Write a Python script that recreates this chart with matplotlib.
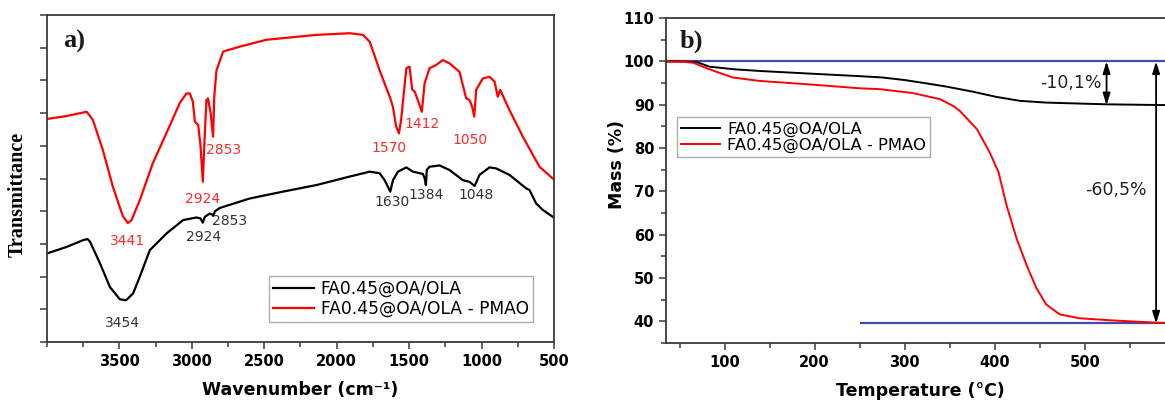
import matplotlib
matplotlib.use("Agg")
import matplotlib.pyplot as plt
from matplotlib.ticker import MultipleLocator, FixedLocator

# FTIR spectra (transmittance, arbitrary units)
wn_ola = [4000, 3864, 3749, 3720, 3703, 3634, 3566, 3497, 3454, 3405, 3359, 3290,
          3175, 3060, 2968, 2940, 2924, 2910, 2876, 2860, 2853, 2840, 2807, 2600,
          2370, 2140, 1910, 1772, 1703, 1669, 1630, 1611, 1577, 1519, 1474, 1405,
          1392, 1384, 1378, 1359, 1290, 1221, 1129, 1083, 1048, 1014, 945, 899,
          807, 692, 669, 623, 577, 508, 500]
tr_ola = [27.1, 29.1, 31.2, 31.5, 30.7, 24.1, 16.9, 13.1, 12.8, 14.9, 20.0, 28.1,
          33.2, 37.3, 38.1, 37.8, 36.5, 38.3, 39.3, 39.0, 38.6, 40.0, 41.0, 43.9,
          46.0, 48.0, 50.6, 52.1, 51.6, 49.5, 46.0, 49.5, 52.1, 53.4, 52.1, 51.4,
          50.0, 48.0, 52.6, 53.6, 54.0, 52.6, 49.5, 49.0, 47.7, 51.1, 53.4, 53.1,
          51.1, 47.0, 46.5, 42.4, 40.4, 38.3, 38.0]

wn_pmao = [4000, 3864, 3726, 3683, 3614, 3545, 3476, 3441, 3416, 3359, 3269, 3175,
           3083, 3037, 3014, 2993, 2979, 2956, 2940, 2924, 2912, 2899, 2888, 2870,
           2853, 2845, 2830, 2784, 2669, 2485, 2370, 2140, 1910, 1818, 1772, 1726,
           1703, 1634, 1612, 1590, 1570, 1555, 1519, 1497, 1478, 1462, 1440, 1412,
           1393, 1359, 1313, 1267, 1221, 1152, 1106, 1083, 1065, 1050, 1037, 991,
           945, 910, 888, 871, 807, 715, 600, 508, 500]
tr_pmao = [68.2, 69.1, 70.4, 67.9, 58.7, 47.5, 38.5, 36.4, 37.3, 43.4, 54.7, 63.9,
           73.1, 76.0, 76.0, 73.5, 67.4, 66.4, 60.0, 49.0, 62.0, 74.0, 74.5, 70.0,
           62.8, 75.0, 83.0, 88.8, 90.3, 92.4, 92.9, 93.9, 94.4, 93.9, 91.8, 86.0,
           83.0, 75.0, 72.0, 66.0, 63.8, 68.0, 83.7, 84.2, 77.1, 76.6, 74.0, 70.4,
           79.1, 83.7, 84.7, 86.2, 85.2, 82.6, 74.5, 74.0, 72.0, 68.9, 77.1, 80.6,
           81.1, 79.6, 75.0, 77.1, 70.9, 62.8, 53.6, 50.0, 49.7]

# peak labels: (text, x, y)
peaks_ola = [("3454", 3478, 5.7), ("2924", 2917, 32.2), ("2853", 2738, 37.1),
             ("1630", 1616, 42.7), ("1384", 1381, 45.0), ("1048", 1036, 45.0)]
peaks_pmao = [("3441", 3441, 30.9), ("2924", 2924, 43.7), ("2853", 2779, 58.7),
              ("1570", 1641, 59.2), ("1412", 1409, 66.7), ("1050", 1078, 61.8)]

# TGA curves
temp_ola = [35, 50, 70, 83, 110, 139, 194, 250, 275, 300, 325, 346, 376, 402,
            428, 457, 490, 524, 560, 600]
mass_ola = [100.0, 100.0, 99.8, 98.8, 98.2, 97.8, 97.2, 96.6, 96.3, 95.7, 94.9,
            94.2, 93.0, 91.8, 90.9, 90.5, 90.3, 90.1, 90.0, 89.9]
temp_pmao = [35, 55, 65, 83, 109, 139, 194, 250, 272, 309, 339, 354, 361, 380,
             394, 404, 413, 424, 435, 446, 457, 472, 494, 531, 578, 600]
mass_pmao = [100.0, 99.9, 99.7, 98.2, 96.3, 95.5, 94.7, 93.8, 93.6, 92.7, 91.3,
             89.7, 88.6, 84.4, 79.1, 74.5, 66.8, 59.2, 53.1, 47.7, 43.9, 41.6,
             40.7, 40.2, 39.7, 39.5]

loss_ola = 10.1
loss_pmao = 60.5

labels = ["FA0.45@OA/OLA", "FA0.45@OA/OLA - PMAO"]

SPINE = "#3a3a3a"
RED = "#ff0000"
BLUE = "#4848a8"

fig = plt.figure(figsize=(11.65, 4.03), dpi=100)
ax1 = fig.add_axes([0.0403, 0.151, 0.4352, 0.812])
ax2 = fig.add_axes([0.5717, 0.149, 0.4369, 0.806])

for ax in (ax1, ax2):
    for s in ax.spines.values():
        s.set_color(SPINE)
        s.set_linewidth(1.3)
    ax.tick_params(which="both", direction="out", color=SPINE, width=1.1,
                   labelsize=10.5, top=False, right=False)
    ax.tick_params(which="major", length=5)
    ax.tick_params(which="minor", length=3.5)

# ---- a) FTIR ----
ax1.plot(wn_ola, tr_ola, color="black", lw=1.6, label=labels[0])
ax1.plot(wn_pmao, tr_pmao, color=RED, lw=1.6, label=labels[1])
ax1.set_xlim(4000, 500)
ax1.set_ylim(0, 100)
ax1.xaxis.set_major_locator(FixedLocator([3500, 3000, 2500, 2000, 1500, 1000, 500]))
ax1.xaxis.set_minor_locator(MultipleLocator(250))
ax1.yaxis.set_major_locator(MultipleLocator(10))
ax1.set_yticklabels([])
for lbl in ax1.get_xticklabels():
    lbl.set_fontweight("bold")
ax1.set_xlabel("Wavenumber (cm⁻¹)", fontsize=12.5, fontweight="bold", labelpad=9)
ax1.set_ylabel("Transmittance", fontsize=14.5, fontweight="bold",
               family="Liberation Serif")
ax1.yaxis.set_label_coords(-0.038, 0.45)

for txt, x, y in peaks_ola:
    ax1.text(x, y, txt, color="#333333", fontsize=10, ha="center", va="center")
for txt, x, y in peaks_pmao:
    ax1.text(x, y, txt, color="#ff2a2a", fontsize=10, ha="center", va="center")

ax1.text(0.032, 0.92, "a)", transform=ax1.transAxes, fontsize=19,
         fontweight="bold", family="Liberation Serif", va="center", ha="left",
         color="#1a1a1a")

leg1 = ax1.legend(loc="lower right", bbox_to_anchor=(0.959, 0.061), fontsize=12.3,
                  frameon=True, fancybox=False, handlelength=2.4,
                  borderpad=0.25, labelspacing=0.1, borderaxespad=0,
                  handletextpad=0.4)
leg1.get_frame().set_edgecolor("#999999")
leg1.get_frame().set_linewidth(1.0)

# ---- b) TGA ----
ax2.plot(temp_ola, mass_ola, color="black", lw=1.4, label=labels[0])
ax2.plot(temp_pmao, mass_pmao, color=RED, lw=1.4, label=labels[1])
ax2.set_xlim(35, 600)
ax2.set_ylim(35, 110)
ax2.xaxis.set_major_locator(FixedLocator([100, 200, 300, 400, 500]))
ax2.xaxis.set_minor_locator(MultipleLocator(50))
ax2.yaxis.set_major_locator(MultipleLocator(10))
ax2.yaxis.set_minor_locator(MultipleLocator(5))
for lbl in ax2.get_xticklabels() + ax2.get_yticklabels():
    lbl.set_fontweight("bold")
ax2.set_xlabel("Temperature (°C)", fontsize=12.5, fontweight="bold", labelpad=9)
ax2.set_ylabel("Mass (%)", fontsize=12.5, fontweight="bold")
ax2.yaxis.set_label_coords(-0.078, 0.55)

# reference levels
ax2.hlines(100, 35, 600, color=BLUE, lw=1.6, zorder=1)
ax2.hlines(100 - loss_pmao, 250, 600, color=BLUE, lw=1.6, zorder=1)

arrow = dict(arrowstyle="<|-|>,head_length=0.7,head_width=0.22", color="black",
             lw=1.3, shrinkA=0, shrinkB=0)
ax2.annotate("", xy=(524, 100), xytext=(524, 100 - loss_ola), arrowprops=arrow)
ax2.annotate("", xy=(579, 100), xytext=(579, 100 - loss_pmao), arrowprops=arrow)
ax2.text(484, 95.1, "-10,1%", fontsize=12.5, ha="center", va="center",
         color="#222222")
ax2.text(534, 70.4, "-60,5%", fontsize=12.5, ha="center", va="center",
         color="#222222")

ax2.text(0.0275, 0.928, "b)", transform=ax2.transAxes, fontsize=19,
         fontweight="bold", family="Liberation Serif", va="center", ha="left",
         color="#1a1a1a")

leg2 = ax2.legend(loc="upper left", bbox_to_anchor=(0.0216, 0.695), fontsize=11.8,
                  frameon=True, fancybox=False, handlelength=2.4,
                  borderpad=0.25, labelspacing=0.1, borderaxespad=0,
                  handletextpad=0.4)
leg2.get_frame().set_edgecolor("#999999")
leg2.get_frame().set_linewidth(1.0)

fig.savefig("out.png", dpi=100)
